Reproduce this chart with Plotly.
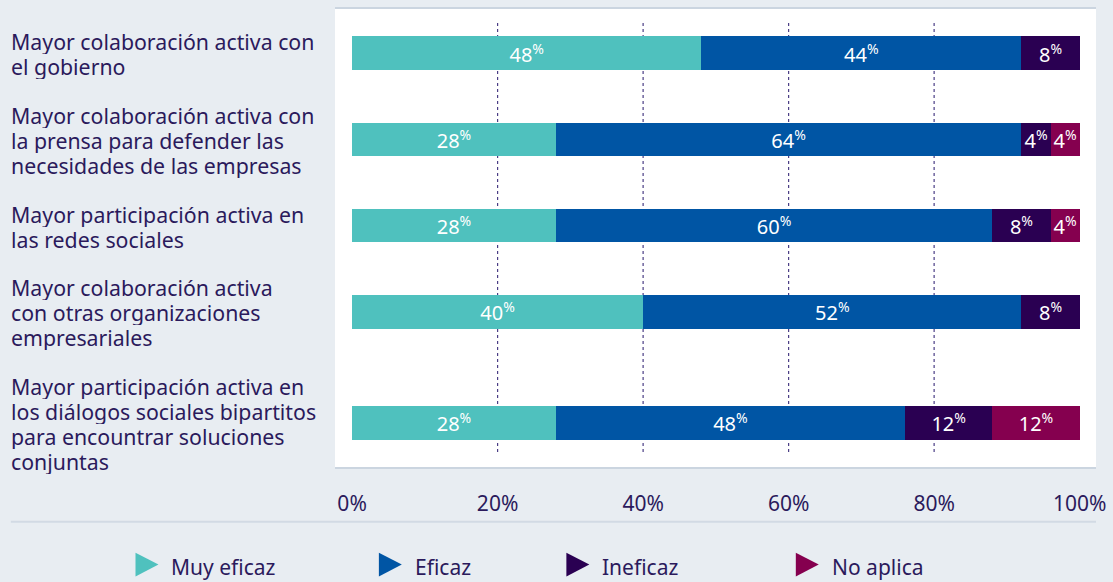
import plotly.graph_objects as go

# Survey categories (top to bottom), one entry per wrapped line
categories = [
    ["Mayor colaboración activa con", "el gobierno"],
    ["Mayor colaboración activa con", "la prensa para defender las",
     "necesidades de las empresas"],
    ["Mayor participación activa en", "las redes sociales"],
    ["Mayor colaboración activa", "con otras organizaciones",
     "empresariales"],
    ["Mayor participación activa en", "los diálogos sociales bipartitos",
     "para encountrar soluciones", "conjuntas"],
]

# Share of responses per rating (%)
muy_eficaz = [48, 28, 28, 40, 28]
eficaz = [44, 64, 60, 52, 48]
ineficaz = [8, 4, 8, 8, 12]
no_aplica = [0, 4, 4, 0, 12]

series_names = ["Muy eficaz", "Eficaz", "Ineficaz", "No aplica"]
series_values = [muy_eficaz, eficaz, ineficaz, no_aplica]
series_colors = ["#4FC1BE", "#0055A4", "#2A0052", "#85004F"]

tick_values = [0, 20, 40, 60, 80, 100]
tick_labels = ["0%", "20%", "40%", "60%", "80%", "100%"]
grid_values = [20, 40, 60, 80]

TEXT = "#2B1A5C"
BG = "#E8EDF2"
FONT = "Noto Sans"

W, H = 1113, 582
ML, MR, MT, MB = 335, 15, 7, 115
PW, PH = W - ML - MR, H - MT - MB

# Row layout: label blocks are stacked; each row is as tall as its label
LINE_H = 25          # label line spacing, px
ROW_GAP = 24         # space between label blocks, px
FIRST_TOP = 27.5     # top of the first label block, px from figure top
BAR_THICK = 34       # bar thickness, px
BAR_SHIFT = -1       # bar offset from its label centre, px

LEGEND_LEFT = [135, 379, 567, 797]  # legend glyph left edges, px
LEGEND_Y = 565                      # legend row centre, px


def px_x(px):
    return (px - ML) / PW


def px_y(py):
    return (H - MB - py) / PH


# y axis runs in pixels from the figure top, so rows follow the label stack
row_tops, row_centers = [], []
top = FIRST_TOP
for lines in categories:
    h = LINE_H * len(lines)
    row_tops.append(top)
    row_centers.append(top + h / 2 + BAR_SHIFT)
    top += h + ROW_GAP

fig = go.Figure()

for name, vals, color in zip(series_names, series_values, series_colors):
    fig.add_trace(go.Bar(
        y=row_centers,
        x=vals,
        orientation="h",
        name=name,
        marker=dict(color=color, line=dict(width=0)),
        width=BAR_THICK,
        text=[f"{v}<sup>%</sup>" if v else "" for v in vals],
        textposition="inside",
        insidetextanchor="middle",
        textangle=0,
        insidetextfont=dict(color="white", size=20, family=FONT),
        showlegend=False,
        hoverinfo="skip",
    ))

# dotted vertical gridlines
for g in grid_values:
    fig.add_shape(type="line", xref="x", yref="paper",
                  x0=g, x1=g, y0=px_y(452), y1=px_y(20),
                  line=dict(color="#4A3D85", width=1.2, dash="dot"),
                  layer="below")

# separator above the legend
fig.add_shape(type="line", xref="paper", yref="paper",
              x0=px_x(10), x1=px_x(1098), y0=px_y(522), y1=px_y(522),
              line=dict(color="#D2DAE4", width=2))

# category labels on the left, one annotation per line
for top, lines in zip(row_tops, categories):
    for k, line in enumerate(lines):
        fig.add_annotation(
            x=px_x(9), xref="paper", y=top + LINE_H * (k + 0.5), yref="y",
            text=line, showarrow=False, xanchor="left", yanchor="middle",
            height=LINE_H, valign="middle", borderpad=0,
            font=dict(size=21.3, color=TEXT, family=FONT),
        )

# legend: triangle glyph + label
tri_w, tri_h = 23, 24
for left, name, color in zip(LEGEND_LEFT, series_names, series_colors):
    x0, x1 = px_x(left), px_x(left + tri_w)
    yt, yb, ym = px_y(LEGEND_Y - tri_h / 2), px_y(LEGEND_Y + tri_h / 2), px_y(LEGEND_Y)
    fig.add_shape(type="path", xref="paper", yref="paper",
                  path=f"M {x0},{yt} L {x1},{ym} L {x0},{yb} Z",
                  fillcolor=color, line=dict(width=0))
    fig.add_annotation(
        x=px_x(left + 34), xref="paper", y=px_y(LEGEND_Y + 2), yref="paper",
        text=name, showarrow=False, xanchor="left", yanchor="middle",
        font=dict(size=21, color=TEXT, family=FONT),
    )

fig.update_layout(
    width=W, height=H,
    margin=dict(l=ML, r=MR, t=MT, b=MB),
    barmode="stack",
    paper_bgcolor=BG,
    plot_bgcolor="white",
    font=dict(family=FONT, color=TEXT, size=20),
    uniformtext=dict(minsize=20, mode="show"),
    showlegend=False,
    xaxis=dict(
        range=[-2.35, 102.25],
        tickvals=tick_values, ticktext=tick_labels,
        showgrid=False, zeroline=False,
        showline=True, mirror=True, linecolor="#CBD5E0", linewidth=2,
        ticks="", ticklabelstandoff=17,
        tickfont=dict(size=21, color=TEXT, family=FONT),
        fixedrange=True,
    ),
    yaxis=dict(
        range=[H - MB, MT],
        showticklabels=False, showgrid=False, zeroline=False,
        showline=False, fixedrange=True,
    ),
)

fig.write_html("out.html")
